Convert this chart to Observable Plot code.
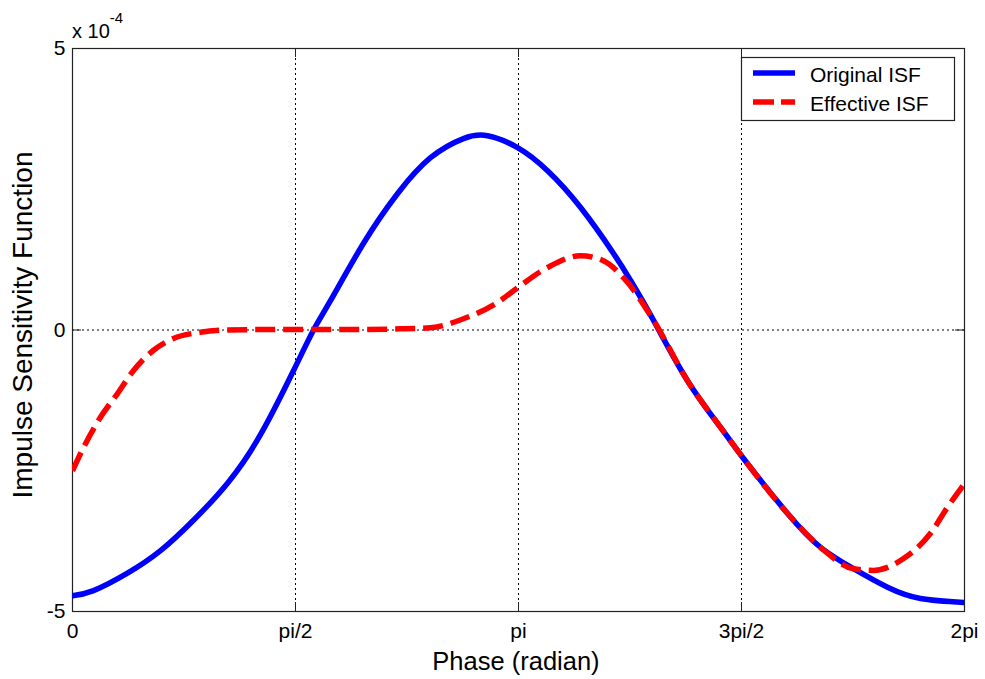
<!DOCTYPE html>
<html>
<head>
<meta charset="utf-8">
<script src="https://cdn.jsdelivr.net/npm/d3@7"></script>
<script src="https://cdn.jsdelivr.net/npm/@observablehq/plot@0.6"></script>
<style>
  html, body { margin: 0; padding: 0; background: #fff; }
  svg { display: block; }
</style>
</head>
<body>
<div id="chart"></div>
<script>
const PI = Math.PI;

// Tick values and labels
const xTickValues = [0, PI / 2, PI, 3 * PI / 2, 2 * PI];
const xTickLabels = ["0", "pi/2", "pi", "3pi/2", "2pi"];
const yTickValues = [-5, 0, 5];
const yTickLabels = ["-5", "0", "5"];

// Series
const seriesNames = ["Original ISF", "Effective ISF"];
const seriesColors = ["#0000ff", "#ff0000"];

// Original ISF (values in units of 1e-4)
const phaseOriginal = [0, 0.148, 0.387, 0.620, 0.852, 1.092, 1.324, 1.557, 1.698, 1.817, 2.050, 2.289, 2.522, 2.754, 2.923, 3.135, 3.346, 3.578, 3.811, 3.931, 4.093, 4.332, 4.565, 4.720, 5.037, 5.269, 5.501, 5.741, 5.973, 6.283];
const isfOriginal   = [-4.72, -4.63, -4.32, -3.92, -3.38, -2.72, -1.86, -0.72, 0, 0.52, 1.54, 2.42, 3.06, 3.40, 3.45, 3.24, 2.83, 2.18, 1.36, 0.88, 0.17, -0.90, -1.73, -2.26, -3.26, -3.86, -4.24, -4.57, -4.77, -4.84];

// Effective ISF (values in units of 1e-4)
const phaseEffective = [0, 0.077, 0.197, 0.317, 0.430, 0.571, 0.711, 0.902, 1.092, 1.5, 2.0, 2.310, 2.522, 2.754, 2.994, 3.135, 3.346, 3.578, 3.740, 3.881, 4.093, 4.332, 4.565, 4.720, 5.037, 5.269, 5.501, 5.642, 5.854, 6.044, 6.163, 6.283];
const isfEffective   = [-2.50, -2.09, -1.55, -1.13, -0.72, -0.36, -0.15, -0.04, 0, 0.01, 0.01, 0.02, 0.04, 0.20, 0.49, 0.75, 1.11, 1.32, 1.23, 0.93, 0.17, -0.90, -1.73, -2.26, -3.26, -3.86, -4.24, -4.27, -4.06, -3.61, -3.15, -2.73];

// Texts
const xLabel = "Phase (radian)";
const yLabel = "Impulse Sensitivity Function";
const yMultiplier = "x 10";
const yExponent = "-4";

const original = phaseOriginal.map((p, i) => ({phase: p, isf: isfOriginal[i]}));
const effective = phaseEffective.map((p, i) => ({phase: p, isf: isfEffective[i]}));

const xMin = xTickValues[0], xMax = xTickValues[xTickValues.length - 1];
const yMin = yTickValues[0], yMax = yTickValues[yTickValues.length - 1];
const frameColor = "#222";
const font = "'Liberation Sans', Arial, Helvetica, sans-serif";

const plot = Plot.plot({
  width: 985,
  height: 679,
  marginLeft: 72,
  marginRight: 21,
  marginTop: 48,
  marginBottom: 68,
  style: {fontFamily: font, fontSize: "21px", background: "#fff", color: "#000", overflow: "visible"},
  x: {domain: [xMin, xMax]},
  y: {domain: [yMin, yMax]},
  marks: [
    // dotted grid
    Plot.ruleX(xTickValues.slice(1, -1), {stroke: "#000", strokeWidth: 1, strokeDasharray: "2,3"}),
    Plot.ruleY(yTickValues.slice(1, -1), {stroke: "#000", strokeWidth: 1, strokeDasharray: "2,3"}),
    // inward ticks on all four sides
    Plot.ruleX(xTickValues, {x: d => d, y1: yMin, y2: yMin, insetTop: -9, stroke: frameColor}),
    Plot.ruleX(xTickValues, {x: d => d, y1: yMax, y2: yMax, insetBottom: -9, stroke: frameColor}),
    Plot.ruleY(yTickValues, {y: d => d, x1: xMin, x2: xMin, insetRight: -9, stroke: frameColor}),
    Plot.ruleY(yTickValues, {y: d => d, x1: xMax, x2: xMax, insetLeft: -9, stroke: frameColor}),
    Plot.frame({stroke: frameColor, strokeWidth: 1.2}),
    // curves
    Plot.line(original, {x: "phase", y: "isf", stroke: seriesColors[0], strokeWidth: 5.5, curve: "natural", clip: true}),
    Plot.line(effective, {x: "phase", y: "isf", stroke: seriesColors[1], strokeWidth: 5.5, strokeDasharray: "20,8", strokeLinecap: "butt", curve: "monotone-x", clip: true}),
    // axes
    Plot.axisX(xTickValues, {tickSize: 0, tickPadding: 12, label: null, tickFormat: d => xTickLabels[xTickValues.indexOf(d)], fontSize: 21}),
    Plot.axisY(yTickValues, {tickSize: 0, tickPadding: 7, label: null, tickFormat: d => yTickLabels[yTickValues.indexOf(d)], fontSize: 21})
  ]
});

document.getElementById("chart").appendChild(plot);

const svg = d3.select(plot);

// Axis labels
svg.append("text")
  .attr("x", 516).attr("y", 670)
  .attr("text-anchor", "middle")
  .attr("font-family", font).attr("font-size", 25.5).attr("fill", "#000")
  .text(xLabel);

svg.append("text")
  .attr("transform", "translate(32,325) rotate(-90)")
  .attr("text-anchor", "middle")
  .attr("font-family", font).attr("font-size", 28).attr("fill", "#000")
  .text(yLabel);

// Exponent multiplier
const mult = svg.append("text")
  .attr("x", 72).attr("y", 38)
  .attr("text-anchor", "start")
  .attr("font-family", font).attr("font-size", 20).attr("fill", "#000");
mult.append("tspan").text(yMultiplier);
mult.append("tspan").attr("dy", -15).attr("font-size", 15).text(yExponent);

// Legend
const lg = svg.append("g");
lg.append("rect")
  .attr("x", 741.5).attr("y", 57.5).attr("width", 213).attr("height", 63)
  .attr("fill", "#fff").attr("stroke", frameColor).attr("stroke-width", 1.2);
seriesNames.forEach((name, i) => {
  const y = 73 + i * 29;
  lg.append("line")
    .attr("x1", 753).attr("x2", 795).attr("y1", y).attr("y2", y)
    .attr("stroke", seriesColors[i]).attr("stroke-width", 5.5)
    .attr("stroke-dasharray", i === 1 ? "21,7" : null);
  lg.append("text")
    .attr("x", 810).attr("y", y + 9)
    .attr("text-anchor", "start")
    .attr("font-family", font).attr("font-size", 21).attr("fill", "#000")
    .text(name);
});
</script>
</body>
</html>
